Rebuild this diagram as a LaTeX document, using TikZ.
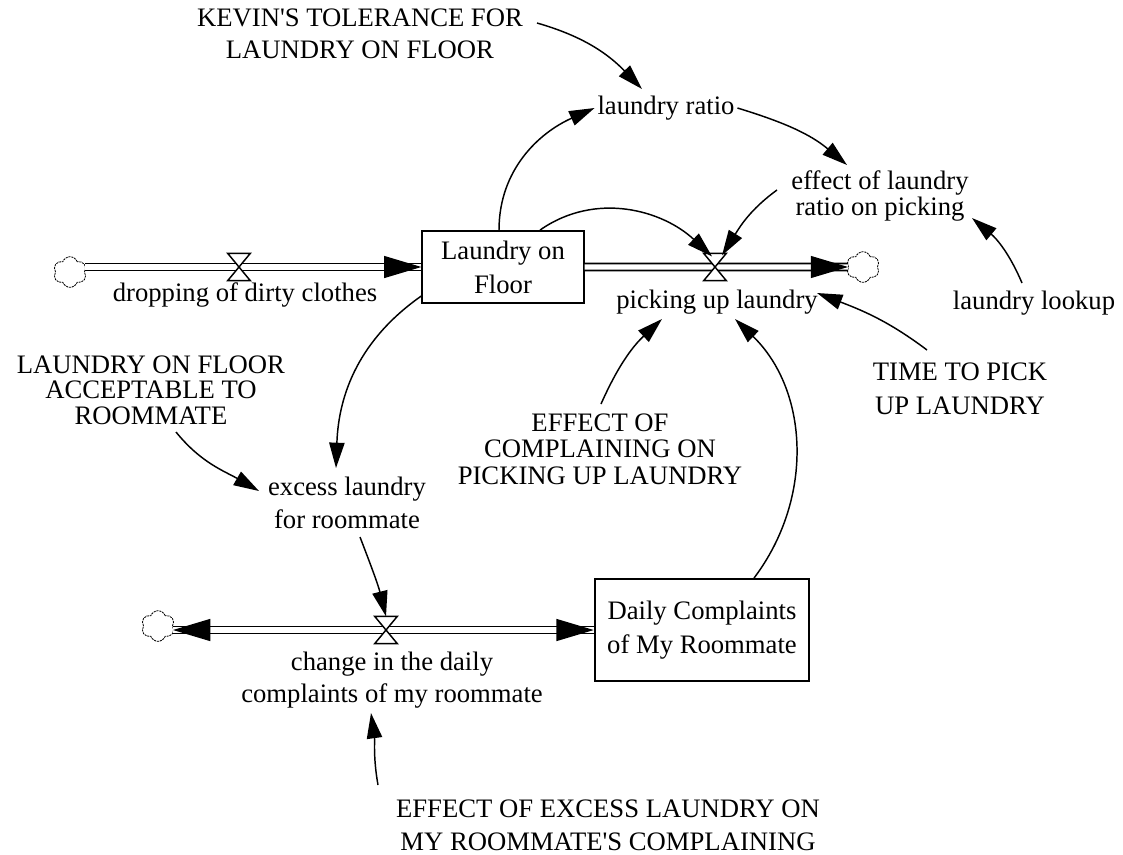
\documentclass[tikz,border=0pt]{standalone}
\usepackage{fontspec}
\setmainfont{Liberation Serif}
\usetikzlibrary{arrows.meta,calc,shapes.symbols}

\tikzset{
  var/.style={align=center, inner sep=2pt, font=\fontsize{20}{#1}\selectfont},
  var/.default=24,
  stock/.style={draw, line width=1.4pt, inner sep=0pt, align=center,
    font=\fontsize{20}{25.5}\selectfont},
  valve/.style={inner sep=0pt, minimum width=16.5pt, minimum height=20pt},
  sink/.style={cloud, cloud puffs=6, cloud puff arc=140, aspect=1.1, draw=black,
    line width=0.6pt, dash pattern=on 1.6pt off 0.6pt, inner sep=0pt,
    minimum width=25pt, minimum height=23pt},
  pipe/.style={draw, line width=1.3pt, double distance=4pt},
  pipetip/.style={draw=white, line width=1pt, -{Triangle[length=28pt,width=16.5pt,color=black]}},
  link/.style={line width=1.1pt, -{Triangle[length=19pt,width=11.5pt]}},
}

\begin{document}
\begin{tikzpicture}[x=0.75pt,y=0.75pt]
  \useasboundingbox (0,0) rectangle (1123,-854);
  % stocks
  \node[stock, minimum width=121pt, minimum height=54pt] (floor) at (503,-267) {Laundry on\\Floor};
  \node[stock, minimum width=161pt, minimum height=76.5pt] (daily) at (702,-630) {Daily Complaints\\of My Roommate};
  % valves and clouds
  \node[valve] (vdrop) at (239,-267) {};
  \node[valve] (vpick) at (715,-267) {};
  \node[valve] (vchange) at (386,-630) {};
  \node[sink] (cL) at (70,-272) {};
  \node[sink] (cR) at (863,-267) {};
  \node[sink] (cB) at (158,-626) {};
  % flow labels
  \node[var] (drop) at (245,-295) {dropping of dirty clothes};
  \node[var] (picking) at (717,-302) {picking up laundry};
  \node[var=24] (change) at (392,-680) {change in the daily\\complaints of my roommate};
  % auxiliaries and constants
  \node[var=24] (kevin) at (360,-34) {KEVIN\textquotesingle S TOLERANCE FOR\\LAUNDRY ON FLOOR};
  \node[var] (ratio) at (666,-108) {laundry ratio};
  \node[var=20] (effect) at (880,-196) {effect of laundry\\ratio on picking};
  \node[var] (lookup) at (1034,-303) {laundry lookup};
  \node[var=25.5] (time) at (960,-389) {TIME TO PICK\\UP LAUNDRY};
  \node[var=19] (accept) at (151,-390) {LAUNDRY ON FLOOR\\ACCEPTABLE TO\\ROOMMATE};
  \node[var=25] (excess) at (347,-503) {excess laundry\\for roommate};
  \node[var=20] (compl) at (600,-449) {EFFECT OF\\COMPLAINING ON\\PICKING UP LAUNDRY};
  \node[var=25] (eff2) at (608,-825) {EFFECT OF EXCESS LAUNDRY ON\\MY ROOMMATE\textquotesingle S COMPLAINING};

  % pipes
  \draw[pipe] (vdrop -| cL.east) -- (floor.west);
  \draw[pipetip] (vdrop) -- (floor.west);
  \draw[pipe] (floor.east) -- (cR.west);
  \draw[pipetip] (vpick) -- (cR.west);
  \draw[pipe] (daily.west -| cB.east) -- (daily.west);
  \draw[pipetip] (vchange) -- (daily.west -| cB.east);
  \draw[pipetip] (vchange) -- (daily.west);
  \foreach \v in {vdrop,vpick,vchange}
    \filldraw[fill=white, line width=1.1pt] (\v.north west) -- (\v.north east)
      -- (\v.south west) -- (\v.south east) -- cycle;

  % links
  \draw[link] ($(kevin)+(177,11)$) to[out=-16,in=134] ($(ratio)+(-24,19)$);
  \draw[link] ($(floor.north)+(-4,0)$) to[out=90,in=204] (ratio.west);
  \draw[link] (ratio.east) to[out=-17,in=140] ($(effect)+(-33,31)$);
  \draw[link] ($(floor.north)+(37,0)$) to[out=35,in=137] ($(vpick.north)+(-3,-3)$);
  \draw[link] ($(effect)+(-103,6)$) to[out=216,in=58] ($(vpick.north)+(7,-2)$);
  \draw[link] ($(lookup)+(-12,20)$) to[out=113,in=-40] ($(effect)+(92,-22)$);
  \draw[link] ($(time)+(-33,39)$) to[out=143,in=-21] ($(picking)+(100,9)$);
  \draw[link] ($(compl)+(1,45)$) to[out=66,in=-137] ($(picking)+(-55,-17)$);
  \draw[link] ($(daily.north)+(52,0)$) to[out=53,in=-44] ($(picking)+(18,-17)$);
  \draw[link] ($(floor.south west)+(0,8)$) to[out=215,in=88] ($(excess)+(-11,35)$);
  \draw[link] ($(accept)+(25,-42)$) to[out=-51,in=150] ($(excess)+(-88,12)$);
  \draw[link] ($(excess)+(13,-34)$) to[out=-69,in=104] (vchange.north);
  \draw[link] ($(eff2)+(-230,40)$) to[out=100,in=-82] ($(change)+(-21,-33)$);
\end{tikzpicture}
\end{document}
